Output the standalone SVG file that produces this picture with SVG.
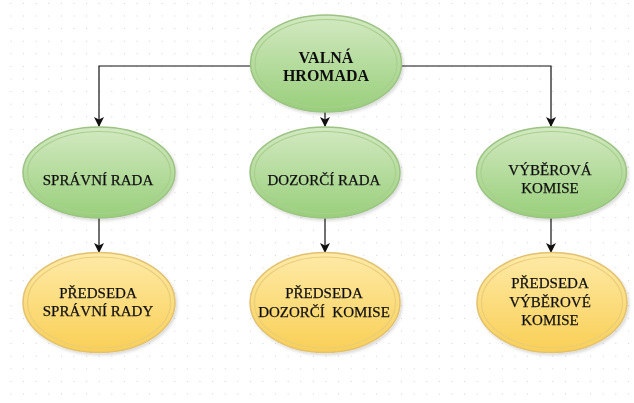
<svg xmlns="http://www.w3.org/2000/svg" width="634" height="403" viewBox="0 0 634 403">
<defs>
<pattern id="grid" x="10.5" y="15.5" width="12.6" height="12.6" patternUnits="userSpaceOnUse">
<rect x="0" y="0" width="1" height="1" fill="#d2d2d2"/>
</pattern>
<linearGradient id="gGreen" x1="0" y1="0" x2="0" y2="1">
<stop offset="0" stop-color="#d3e9c2"/>
<stop offset="1" stop-color="#98cf7a"/>
</linearGradient>
<linearGradient id="gYellow" x1="0" y1="0" x2="0" y2="1">
<stop offset="0" stop-color="#feeaa8"/>
<stop offset="1" stop-color="#f9cf55"/>
</linearGradient>
<marker id="arr" viewBox="0 0 10 10" refX="9" refY="5" markerWidth="10" markerHeight="10" markerUnits="userSpaceOnUse" orient="auto">
<path d="M0,0 L10,5 L0,10 L2.5,5 Z" fill="#111"/>
</marker>
<filter id="sh" x="-10%" y="-10%" width="130%" height="130%">
<feDropShadow dx="1.5" dy="2" stdDeviation="1.5" flood-color="#000" flood-opacity="0.15"/>
</filter>
</defs>
<style>
.g .o{fill:url(#gGreen);stroke:#9cc383;stroke-width:1.5}
.g .i{fill:none;stroke:#a9cf8e;stroke-width:1.2}
.y .o{fill:url(#gYellow);stroke:#e2c270;stroke-width:1.5}
.y .i{fill:none;stroke:#e9cd7a;stroke-width:1.2}
text{font-family:"Liberation Serif","Times New Roman",serif;font-size:15px;fill:#111;stroke:#111;stroke-width:0.25;text-anchor:middle}
.b{font-weight:bold;font-size:16px;stroke-width:0}
.c{fill:none;stroke:#111;stroke-width:1.2}
</style>
<rect width="634" height="403" fill="#ffffff"/>
<rect width="634" height="403" fill="url(#grid)"/>
<g id="connectors">
<path class="c" d="M251,66 H99 V126" marker-end="url(#arr)"/>
<path class="c" d="M401,66 H551 V126" marker-end="url(#arr)"/>
<path class="c" d="M325,112 V126" marker-end="url(#arr)"/>
<path class="c" d="M99,218 V252" marker-end="url(#arr)"/>
<path class="c" d="M325,218 V252" marker-end="url(#arr)"/>
<path class="c" d="M551,218 V252" marker-end="url(#arr)"/>
</g>
<g id="valna-hromada" class="g" filter="url(#sh)">
<ellipse class="o" cx="326" cy="63.5" rx="75.5" ry="48.5"/>
<ellipse class="i" cx="326" cy="63.5" rx="71" ry="44"/>
<text class="b" x="326" y="63">VALNÁ</text>
<text class="b" x="326" y="81">HROMADA</text>
</g>
<g id="spravni-rada" class="g" filter="url(#sh)">
<ellipse class="o" cx="99" cy="172.5" rx="76" ry="45.5"/>
<ellipse class="i" cx="99" cy="172.5" rx="71.5" ry="41"/>
<text x="98" y="185">SPRÁVNÍ RADA</text>
</g>
<g id="dozorci-rada" class="g" filter="url(#sh)">
<ellipse class="o" cx="325" cy="172.5" rx="75" ry="45.5"/>
<ellipse class="i" cx="325" cy="172.5" rx="70.5" ry="41"/>
<text x="324" y="185">DOZORČÍ RADA</text>
</g>
<g id="vyberova-komise" class="g" filter="url(#sh)">
<ellipse class="o" cx="551.5" cy="172.5" rx="75" ry="45.5"/>
<ellipse class="i" cx="551.5" cy="172.5" rx="70.5" ry="41"/>
<text x="550" y="175">VÝBĚROVÁ</text>
<text x="550" y="193">KOMISE</text>
</g>
<g id="predseda-spravni-rady" class="y" filter="url(#sh)">
<ellipse class="o" cx="99" cy="302.5" rx="76" ry="50"/>
<ellipse class="i" cx="99" cy="302.5" rx="71.5" ry="45.5"/>
<text x="98" y="298">PŘEDSEDA</text>
<text x="98" y="316">SPRÁVNÍ RADY</text>
</g>
<g id="predseda-dozorci-komise" class="y" filter="url(#sh)">
<ellipse class="o" cx="325" cy="302.5" rx="75" ry="50"/>
<ellipse class="i" cx="325" cy="302.5" rx="70.5" ry="45.5"/>
<text x="324" y="298">PŘEDSEDA</text>
<text x="324" y="317" xml:space="preserve">DOZORČÍ  KOMISE</text>
</g>
<g id="predseda-vyberove-komise" class="y" filter="url(#sh)">
<ellipse class="o" cx="552" cy="302.5" rx="75" ry="50"/>
<ellipse class="i" cx="552" cy="302.5" rx="70.5" ry="45.5"/>
<text x="550" y="288">PŘEDSEDA</text>
<text x="550" y="307">VÝBĚROVÉ</text>
<text x="550" y="325">KOMISE</text>
</g>
</svg>
